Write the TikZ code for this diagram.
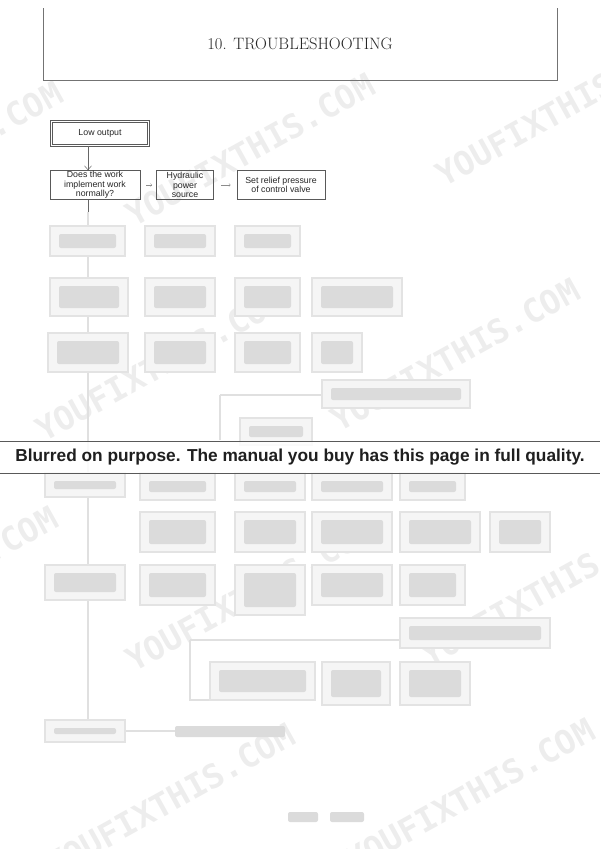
\documentclass[tikz,border=0pt]{standalone}
\usepackage{fontspec}
\setsansfont{Liberation Sans}
\newfontfamily\markfont{DejaVu Sans Mono}
\usetikzlibrary{arrows.meta}

\tikzset{
  chartbox/.style={draw=black!65, line width=0.6pt, align=center, text=black!85,
    font=\sffamily\fontsize{8.8}{9.3}\selectfont, inner xsep=2pt, inner ysep=0pt},
  chartarrow/.style={draw=black!60, line width=0.5pt, -{Straight Barb[length=4pt,width=7pt]}},
  tinyarrow/.style={draw=black!45, line width=0.4pt, -{Straight Barb[length=1.5pt,width=3pt]}},
  blurbox/.style={draw=black!11, fill=black!4, line width=1.5pt},
  blurtext/.style={fill=black!14, rounded corners=2pt},
  blurline/.style={draw=black!12, line width=1.6pt},
  watermark/.style={text=black!7, font=\markfont\bfseries\fontsize{33}{33}\selectfont, rotate=29},
}

\begin{document}
\begin{tikzpicture}[x=1pt,y=-1pt]
  \useasboundingbox (0,0) rectangle (600,849);
  \clip (0,0) rectangle (600,849);

  % watermarks
  \foreach \wx/\wy [count=\i] in {-62/158, 250/150, 560/110, 160/365, 455/355,
      -67/583, 250/595, 545/590, 170/800, 470/795}
    \node[watermark] (mark\i) at (\wx,\wy) {YOUFIXTHIS.COM};

  % header
  \draw[black!55, line width=0.8pt] (43,8) -- (43,80) -- (557,80) -- (557,8);
  \node[font=\fontsize{16.5}{18}\selectfont, text=black!85] (title) at (300,44) {10. TROUBLESHOOTING};

  % readable part of the chart
  \node[chartbox, double, double distance=1.6pt, minimum width=97, minimum height=24] (low) at (100,133.5) {Low output};
  \node[chartbox, minimum width=90, minimum height=29] (normal) at (95,185) {Does the work\\implement work\\normally?};
  \node[chartbox, minimum width=57, minimum height=29] (power) at (185,185) {Hydraulic\\power\\source};
  \node[chartbox, minimum width=88, minimum height=29] (relief) at (281,185) {Set relief pressure\\of control valve};

  \coordinate (trunk) at (88,0);
  \coordinate (trunkfade) at (88,212);
  \coordinate (trunkend) at (88,730);
  \draw[chartarrow] (low.south -| trunk) -- (normal.north -| trunk);
  \draw[tinyarrow, shorten <=6pt, shorten >=4pt] (normal.east) -- (power.west);
  \draw[tinyarrow, shorten <=7pt, shorten >=6pt] (power.east) -- (relief.west);
  \draw[black!60, line width=0.6pt] (normal.south -| trunk) -- (trunkfade);
  \draw[blurline] (trunkfade) -- (trunkend);

  % blurred part of the chart
  \draw[blurline] (220,395) -- (322,395) (220,395) -- (220,440);
  \draw[blurline] (190,640) -- (400,640) (190,640) -- (190,700) -- (210,700);
  \draw[blurline] (125,731) -- (175,731);
  \foreach \xa/\ya/\xb/\yb in {50/226/125/256, 145/226/215/256, 235/226/300/256,
      50/278/128/316, 145/278/215/316, 235/278/300/316, 312/278/402/316,
      48/333/128/372, 145/333/215/372, 235/333/300/372, 312/333/362/372,
      322/380/470/408, 240/418/312/445,
      45/473/125/497, 140/473/215/500, 235/473/305/500, 312/473/392/500, 400/473/465/500,
      140/512/215/552, 235/512/305/552, 312/512/392/552, 400/512/480/552, 490/512/550/552,
      45/565/125/600, 140/565/215/605, 235/565/305/615, 312/565/392/605, 400/565/465/605,
      400/618/550/648, 210/662/315/700, 322/662/390/705, 400/662/470/705,
      45/720/125/742} {
    \draw[blurbox] (\xa,\ya) rectangle (\xb,\yb);
    \fill[blurtext] (\xa+9,\ya+8) rectangle (\xb-9,\yb-8);
  }
  \fill[blurtext] (175,726) rectangle (285,737);
  \fill[blurtext] (288,812) rectangle (318,822);
  \fill[blurtext] (330,812) rectangle (364,822);

  % notice banner
  \fill[white, fill opacity=0.85] (0,441) rectangle (600,473);
  \draw[black!65, line width=1pt] (0,441) -- (600,441) (0,473) -- (600,473);
  \node[font=\sffamily\bfseries\fontsize{17.3}{20}\selectfont, text=black!88] (notice) at (300,457.5)
    {Blurred on purpose. The manual you buy has this page in full quality.};
\end{tikzpicture}
\end{document}
